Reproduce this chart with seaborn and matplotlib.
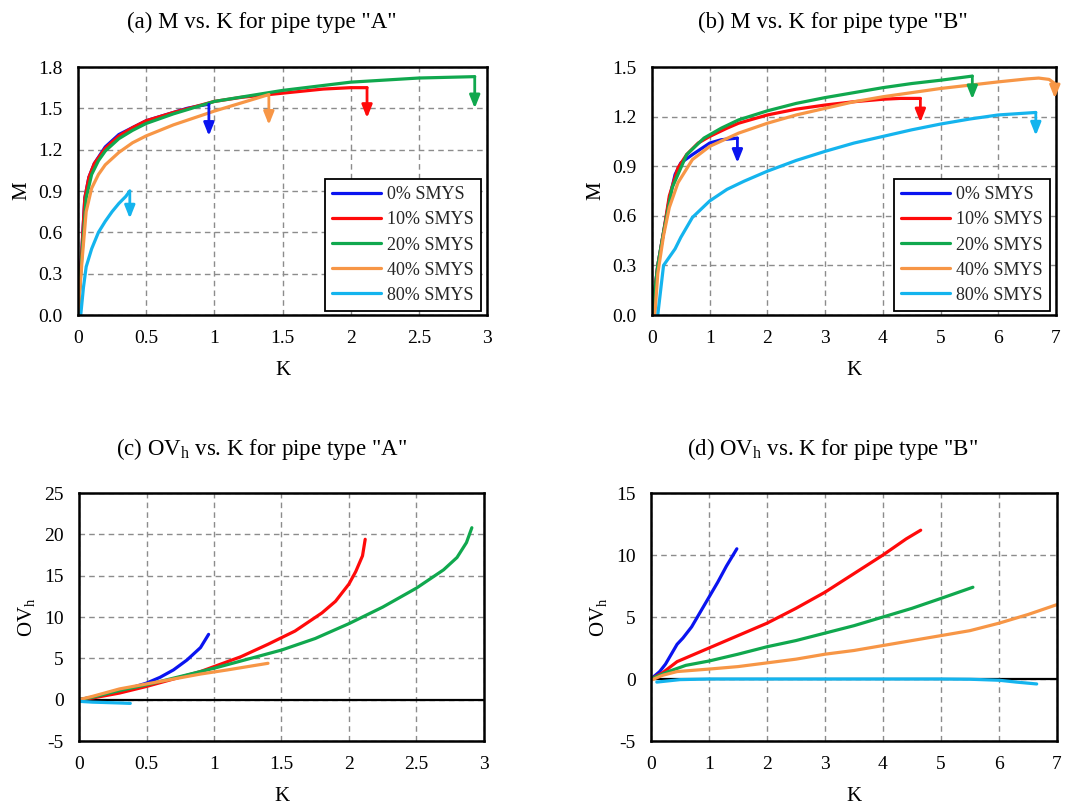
import numpy as np
import pandas as pd
import matplotlib
matplotlib.use("Agg")
import matplotlib.pyplot as plt
import seaborn as sns

sns.set_theme(style="white")
plt.rcParams["font.family"] = ["Liberation Serif", "DejaVu Serif"]
plt.rcParams["mathtext.fontset"] = "custom"
plt.rcParams["mathtext.rm"] = "Liberation Serif"
plt.rcParams["mathtext.it"] = "Liberation Serif:italic"

cases = ["0% SMYS", "10% SMYS", "20% SMYS", "40% SMYS", "80% SMYS"]
colors = ["#0A14F0", "#FF0A0A", "#10A84E", "#F79646", "#14B4EE"]

# ---- (a) M vs K, pipe A ----
a_k = {
    "0% SMYS":  [0, 0.03, 0.05, 0.08, 0.12, 0.2, 0.3, 0.4, 0.5, 0.6, 0.7, 0.8, 0.9, 0.96],
    "10% SMYS": [0, 0.03, 0.05, 0.08, 0.12, 0.2, 0.3, 0.4, 0.5, 0.7, 1.0, 1.2, 1.4, 1.6, 1.8, 2.0, 2.12],
    "20% SMYS": [0, 0.03, 0.06, 0.1, 0.15, 0.2, 0.3, 0.4, 0.5, 0.7, 1.0, 1.5, 2.0, 2.5, 2.91],
    "40% SMYS": [0, 0.03, 0.06, 0.1, 0.15, 0.2, 0.3, 0.4, 0.5, 0.7, 1.0, 1.2, 1.4],
    "80% SMYS": [0.02, 0.04, 0.06, 0.1, 0.15, 0.2, 0.25, 0.3, 0.35, 0.38],
}
a_m = {
    "0% SMYS":  [0, 0.5, 0.85, 1.0, 1.1, 1.22, 1.31, 1.36, 1.41, 1.44, 1.47, 1.50, 1.52, 1.53],
    "10% SMYS": [0, 0.5, 0.85, 1.0, 1.1, 1.21, 1.30, 1.36, 1.41, 1.47, 1.55, 1.58, 1.60, 1.62, 1.64, 1.65, 1.65],
    "20% SMYS": [0, 0.45, 0.85, 1.02, 1.12, 1.19, 1.28, 1.34, 1.39, 1.46, 1.55, 1.63, 1.69, 1.72, 1.73],
    "40% SMYS": [0, 0.4, 0.75, 0.92, 1.02, 1.09, 1.18, 1.25, 1.30, 1.38, 1.48, 1.54, 1.60],
    "80% SMYS": [0, 0.2, 0.35, 0.48, 0.60, 0.68, 0.75, 0.81, 0.86, 0.90],
}
a_drop = {"0% SMYS": 1.30, "10% SMYS": 1.43, "20% SMYS": 1.50, "40% SMYS": 1.38, "80% SMYS": 0.70}

# ---- (b) M vs K, pipe B ----
b_k = {
    "0% SMYS":  [0, 0.1, 0.2, 0.3, 0.4, 0.5, 0.7, 1.0, 1.2, 1.48],
    "10% SMYS": [0, 0.1, 0.2, 0.3, 0.45, 0.6, 0.8, 1.0, 1.3, 1.5, 2.0, 2.5, 3.0, 3.5, 4.0, 4.3, 4.65],
    "20% SMYS": [0, 0.1, 0.2, 0.35, 0.6, 0.9, 1.2, 1.5, 2.0, 2.5, 3.0, 3.5, 4.0, 4.5, 5.0, 5.55],
    "40% SMYS": [0.05, 0.1, 0.2, 0.3, 0.45, 0.7, 1.0, 1.5, 2.0, 2.5, 3.0, 3.5, 4.0, 4.5, 5.0, 5.5, 6.0, 6.5, 6.7, 6.88, 6.98],
    "80% SMYS": [0.1, 0.15, 0.2, 0.4, 0.5, 0.7, 1.0, 1.3, 1.6, 2.0, 2.5, 3.0, 3.5, 4.0, 4.5, 5.0, 5.5, 6.0, 6.65],
}
b_m = {
    "0% SMYS":  [0, 0.3, 0.5, 0.7, 0.85, 0.92, 0.97, 1.04, 1.06, 1.07],
    "10% SMYS": [0, 0.3, 0.5, 0.72, 0.89, 0.97, 1.04, 1.08, 1.13, 1.16, 1.21, 1.245, 1.27, 1.29, 1.305, 1.31, 1.31],
    "20% SMYS": [0, 0.3, 0.5, 0.77, 0.97, 1.07, 1.13, 1.18, 1.235, 1.28, 1.315, 1.345, 1.375, 1.40, 1.42, 1.445],
    "40% SMYS": [0, 0.25, 0.48, 0.65, 0.80, 0.94, 1.02, 1.10, 1.16, 1.21, 1.25, 1.29, 1.32, 1.345, 1.37, 1.39, 1.41, 1.428, 1.433, 1.425, 1.40],
    "80% SMYS": [0, 0.15, 0.30, 0.40, 0.47, 0.59, 0.69, 0.76, 0.81, 0.87, 0.935, 0.99, 1.04, 1.08, 1.12, 1.155, 1.185, 1.21, 1.225],
}
b_drop = {"0% SMYS": 0.92, "10% SMYS": 1.165, "20% SMYS": 1.305, "40% SMYS": 1.31, "80% SMYS": 1.085}

# ---- (c) OVh vs K, pipe A ----
c_k = {
    "0% SMYS":  [0, 0.1, 0.2, 0.3, 0.4, 0.5, 0.6, 0.7, 0.8, 0.9, 0.96],
    "10% SMYS": [0, 0.1, 0.3, 0.5, 0.7, 0.9, 1.0, 1.2, 1.4, 1.6, 1.8, 1.9, 2.0, 2.05, 2.1, 2.12],
    "20% SMYS": [0, 0.1, 0.3, 0.5, 0.7, 1.0, 1.25, 1.5, 1.75, 2.0, 2.25, 2.5, 2.7, 2.8, 2.87, 2.91],
    "40% SMYS": [0, 0.1, 0.3, 0.5, 0.7, 0.9, 1.1, 1.4],
    "80% SMYS": [0, 0.1, 0.2, 0.3, 0.38],
}
c_ov = {
    "0% SMYS":  [0, 0.3, 0.7, 1.1, 1.5, 2.0, 2.7, 3.6, 4.8, 6.3, 7.9],
    "10% SMYS": [0, 0.2, 0.8, 1.6, 2.5, 3.4, 4.0, 5.2, 6.7, 8.3, 10.5, 11.9, 14.0, 15.5, 17.4, 19.4],
    "20% SMYS": [0, 0.3, 1.1, 1.8, 2.6, 3.8, 4.9, 6.0, 7.4, 9.2, 11.2, 13.5, 15.7, 17.2, 19.0, 20.8],
    "40% SMYS": [0, 0.4, 1.3, 1.9, 2.5, 3.1, 3.6, 4.4],
    "80% SMYS": [-0.2, -0.3, -0.35, -0.4, -0.45],
}

# ---- (d) OVh vs K, pipe B ----
d_k = {
    "0% SMYS":  [0, 0.15, 0.25, 0.3, 0.4, 0.45, 0.55, 0.7, 0.85, 1.0, 1.15, 1.3, 1.48],
    "10% SMYS": [0, 0.2, 0.45, 0.7, 1.0, 1.5, 2.0, 2.5, 3.0, 3.5, 4.0, 4.4, 4.65],
    "20% SMYS": [0, 0.3, 0.6, 1.0, 1.5, 2.0, 2.5, 3.0, 3.5, 4.0, 4.5, 5.0, 5.55],
    "40% SMYS": [0, 0.2, 0.45, 1.0, 1.5, 2.0, 2.5, 3.0, 3.5, 4.0, 4.5, 5.0, 5.5, 6.0, 6.5, 7.0],
    "80% SMYS": [0.1, 0.5, 1.0, 2.0, 3.0, 4.0, 5.0, 5.5, 6.0, 6.3, 6.65],
}
d_ov = {
    "0% SMYS":  [0, 0.6, 1.2, 1.6, 2.4, 2.8, 3.3, 4.2, 5.4, 6.6, 7.8, 9.1, 10.5],
    "10% SMYS": [0, 0.5, 1.4, 1.9, 2.5, 3.5, 4.5, 5.7, 7.0, 8.5, 10.0, 11.3, 12.0],
    "20% SMYS": [0, 0.6, 1.1, 1.45, 2.0, 2.6, 3.1, 3.7, 4.3, 5.0, 5.7, 6.5, 7.4],
    "40% SMYS": [-0.1, 0.3, 0.6, 0.8, 1.0, 1.3, 1.6, 2.0, 2.3, 2.7, 3.1, 3.5, 3.9, 4.5, 5.2, 6.0],
    "80% SMYS": [-0.25, -0.05, 0, 0, 0, 0, 0, -0.02, -0.1, -0.25, -0.4],
}

titles = [
    '(a) M vs. K for pipe type "A"',
    '(b) M vs. K for pipe type "B"',
    r'(c) OV$_\mathregular{h}$ vs. K for pipe type "A"',
    r'(d) OV$_\mathregular{h}$ vs. K for pipe type "B"',
]


def to_frame(kd, vd):
    rows = []
    for c in cases:
        for k, v in zip(kd[c], vd[c]):
            rows.append((c, k, v))
    return pd.DataFrame(rows, columns=["case", "K", "V"])


fig = plt.figure(figsize=(10.86, 8.05), dpi=100)
W, H = 1086, 805


def make_ax(l, r, t, b):
    return fig.add_axes([l / W, 1 - b / H, (r - l) / W, (b - t) / H])


ax_a = make_ax(78, 487, 67, 315)
ax_b = make_ax(652, 1056, 67, 315)
ax_c = make_ax(79, 484, 493, 741)
ax_d = make_ax(651, 1057, 493, 741)

palette = dict(zip(cases, colors))
LW = 2.3
TICK_FS = 14


def style(ax, xlim, xticks, xlabels, ylim, yticks, ylabels, ylab):
    ax.set_xlim(*xlim)
    ax.set_ylim(*ylim)
    ax.set_xticks(xticks)
    ax.set_xticklabels(xlabels, fontsize=TICK_FS)
    ax.set_yticks(yticks)
    ax.set_yticklabels(ylabels, fontsize=TICK_FS)
    ax.tick_params(axis="x", length=0, pad=11, colors="black")
    ax.tick_params(axis="y", length=0, pad=11, colors="black")
    ax.grid(True, color="#8c8c8c", linestyle=(0, (4, 3)), linewidth=1.0)
    ax.set_axisbelow(True)
    for s in ax.spines.values():
        s.set_visible(True)
        s.set_color("black")
        s.set_linewidth(1.8)
    ax.set_xlabel("K", fontsize=15, labelpad=10, color="black")
    ax.set_ylabel(ylab, fontsize=15, labelpad=5, color="black")


def draw(ax, kd, vd, legend):
    df = to_frame(kd, vd)
    sns.lineplot(data=df, x="K", y="V", hue="case", hue_order=cases, palette=palette,
                 estimator=None, sort=False, linewidth=LW, ax=ax, legend=legend)


def arrows(ax, kd, vd, drops):
    for c in cases:
        k_end, v_end = kd[c][-1], vd[c][-1]
        ax.annotate("", xy=(k_end, drops[c]), xytext=(k_end, v_end),
                    arrowprops=dict(arrowstyle="-|>,head_length=0.55,head_width=0.22",
                                    color=palette[c], lw=2.0, shrinkA=0, shrinkB=0,
                                    mutation_scale=14),
                    annotation_clip=False)


def legend_box(ax):
    handles, labels = ax.get_legend_handles_labels()
    leg = ax.legend(handles, labels, loc="lower right", bbox_to_anchor=(0.985, 0.016),
                    borderaxespad=0, fontsize=13, frameon=True, fancybox=False,
                    edgecolor="black", framealpha=1, handlelength=2.7, handletextpad=0.35,
                    labelspacing=0.45, borderpad=0.4)
    leg.get_frame().set_linewidth(1.3)
    for line in leg.get_lines():
        line.set_linewidth(LW)


# (a)
draw(ax_a, a_k, a_m, True)
arrows(ax_a, a_k, a_m, a_drop)
style(ax_a, (0, 3), [0, 0.5, 1, 1.5, 2, 2.5, 3], ["0", "0.5", "1", "1.5", "2", "2.5", "3"],
      (0, 1.8), np.arange(0, 1.81, 0.3), [f"{v:.1f}" for v in np.arange(0, 1.81, 0.3)], "M")
legend_box(ax_a)

# (b)
draw(ax_b, b_k, b_m, True)
arrows(ax_b, b_k, b_m, b_drop)
style(ax_b, (0, 7), list(range(8)), [str(i) for i in range(8)],
      (0, 1.5), np.arange(0, 1.51, 0.3), [f"{v:.1f}" for v in np.arange(0, 1.51, 0.3)], "M")
legend_box(ax_b)

# (c)
draw(ax_c, c_k, c_ov, False)
ax_c.axhline(0, color="black", lw=1.6, zorder=1.5)
style(ax_c, (0, 3), [0, 0.5, 1, 1.5, 2, 2.5, 3], ["0", "0.5", "1", "1.5", "2", "2.5", "3"],
      (-5, 25), list(range(-5, 26, 5)), [str(v) for v in range(-5, 26, 5)],
      r"OV$_\mathregular{h}$")

# (d)
draw(ax_d, d_k, d_ov, False)
ax_d.axhline(0, color="black", lw=1.6, zorder=1.5)
style(ax_d, (0, 7), list(range(8)), [str(i) for i in range(8)],
      (-5, 15), list(range(-5, 16, 5)), [str(v) for v in range(-5, 16, 5)],
      r"OV$_\mathregular{h}$")

# Panel titles
for (x, y), t in zip([(262, 22), (833, 22), (262, 449), (833, 449)], titles):
    fig.text(x / W, 1 - y / H, t, ha="center", va="center", fontsize=16.5, color="black")

fig.savefig("out.png", dpi=100, facecolor="white")
